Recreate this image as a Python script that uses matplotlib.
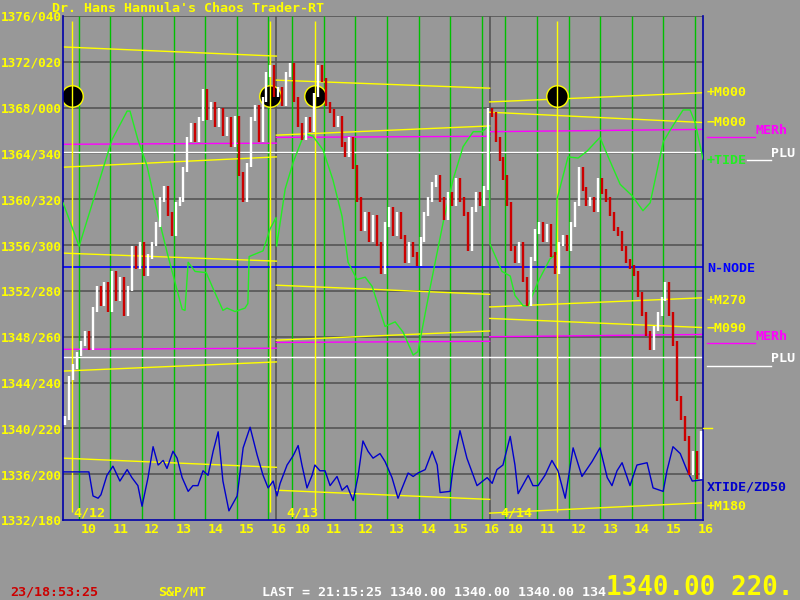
import matplotlib
matplotlib.use('Agg')
import matplotlib.pyplot as plt
from matplotlib.lines import Line2D
import numpy as np

# sessao de 9:30 ate 16:15 = 6.75 horas por dia
DAY = 6.75
days = ['4/12', '4/13', '4/14']
hours = [10, 11, 12, 13, 14, 15, 16]

ytick_vals = [1332, 1336, 1340, 1344, 1348, 1352, 1356, 1360, 1364, 1368, 1372, 1376]
ytick_labels = ['1332/180', '1336/200', '1340/220', '1344/240', '1348/260', '1352/280',
                '1356/300', '1360/320', '1364/340', '1368/000', '1372/020', '1376/040']

# fechamentos a cada 7.5 minutos (54 barras por dia)
price_d1 = [1340.9, 1344.4, 1345.4, 1346.5, 1347.4, 1348.3, 1347.0, 1350.4, 1352.2, 1350.9,
            1352.6, 1350.4, 1353.5, 1351.3, 1353.0, 1350.0, 1352.2, 1355.7, 1354.1, 1356.1,
            1353.5, 1355.0, 1356.1, 1357.8, 1360.0, 1361.0, 1358.7, 1357.0, 1359.6, 1360.0,
            1362.6, 1365.2, 1366.5, 1365.2, 1367.0, 1369.4, 1367.1, 1368.3, 1366.5, 1367.8,
            1365.7, 1367.0, 1364.8, 1367.1, 1362.2, 1360.0, 1363.0, 1367.0, 1368.0, 1365.2,
            1368.7, 1370.9, 1371.5, 1369.1]
price_d2 = [1369.6, 1368.3, 1370.9, 1371.7, 1368.7, 1366.5, 1365.4, 1367.0, 1366.1, 1369.1,
            1371.5, 1370.4, 1368.3, 1367.7, 1366.5, 1367.1, 1364.8, 1363.9, 1365.2, 1362.8,
            1360.0, 1357.4, 1358.7, 1356.5, 1358.4, 1356.1, 1353.7, 1357.8, 1359.1, 1357.0,
            1358.7, 1356.7, 1354.6, 1356.1, 1355.2, 1354.4, 1356.5, 1358.7, 1360.0, 1361.3,
            1361.9, 1360.0, 1358.4, 1360.4, 1359.6, 1361.7, 1360.0, 1358.7, 1355.7, 1359.1,
            1360.4, 1359.6, 1361.0, 1367.8]
price_d3 = [1367.4, 1365.2, 1363.5, 1361.9, 1359.6, 1355.7, 1354.6, 1356.1, 1353.0, 1350.9,
            1354.8, 1357.2, 1357.8, 1356.5, 1357.6, 1355.2, 1353.7, 1356.1, 1356.7, 1355.7,
            1357.8, 1359.6, 1362.6, 1360.9, 1359.6, 1360.0, 1359.1, 1361.7, 1360.7, 1360.0,
            1358.7, 1357.4, 1357.0, 1355.7, 1354.6, 1354.1, 1353.5, 1351.7, 1350.0, 1348.3,
            1347.0, 1348.7, 1350.0, 1351.3, 1352.6, 1350.0, 1347.4, 1342.6, 1340.9, 1339.1,
            1336.1, 1337.8, 1335.8, 1339.6]

# curva TIDE (verde)
tide_t = [0, 0.51, 1.55, 2.03, 2.12, 2.37, 2.66, 2.98, 3.29, 3.54, 3.77, 3.86, 3.96, 4.18, 4.53,
          4.75, 5.06, 5.19, 5.44, 5.76, 5.85, 5.89, 6.33, 6.55, 6.74, 6.76, 7.03, 7.28, 7.56, 7.72,
          7.91, 8.23, 8.54, 8.83, 9.02, 9.30, 9.56, 9.78, 10.19, 10.51, 10.76, 11.08, 11.23, 11.61,
          12.03, 12.34, 12.66, 12.98, 13.26, 13.48, 13.51, 13.89, 14.15, 14.30, 14.56, 14.72, 15.03,
          15.41, 15.60, 15.63, 15.79, 15.98, 16.30, 16.58, 16.99, 17.25, 17.63, 18.01, 18.35, 18.58,
          18.99, 19.27, 19.62, 19.84, 20.00, 20.25]
tide_p = [1359.7, 1355.9, 1365.2, 1367.7, 1367.7, 1365.2, 1362.9, 1358.9, 1355.4, 1352.8,
          1350.4, 1350.3, 1354.5, 1353.7, 1353.6, 1352.2, 1350.3, 1350.5, 1350.2, 1350.5,
          1350.9, 1355.0, 1355.5, 1357.4, 1358.4, 1355.9, 1360.9, 1363.2, 1365.2, 1365.7,
          1365.5, 1364.3, 1361.7, 1358.5, 1354.5, 1353.0, 1353.2, 1352.4, 1348.9, 1349.3,
          1348.4, 1346.4, 1346.7, 1352.2, 1358.0, 1361.7, 1364.6, 1365.9, 1365.9, 1366.4,
          1356.1, 1353.7, 1353.3, 1351.6, 1350.7, 1350.7, 1352.8, 1354.8, 1355.2, 1360.0,
          1361.7, 1363.7, 1363.6, 1364.2, 1365.4, 1363.7, 1361.3, 1360.3, 1359.0, 1359.7,
          1365.0, 1366.3, 1367.8, 1367.8, 1366.7, 1363.5]

# curva XTIDE/ZD50 (azul)
xtide_t = [0, 0.82, 0.95, 1.11, 1.20, 1.39, 1.58, 1.80, 2.03, 2.18,
           2.37, 2.50, 2.69, 2.85, 3.01, 3.17, 3.29, 3.48, 3.61, 3.77,
           3.96, 4.11, 4.27, 4.43, 4.59, 4.75, 4.91, 5.06, 5.25, 5.51,
           5.70, 5.92, 6.14, 6.33, 6.49, 6.65, 6.77, 6.87, 7.09, 7.28,
           7.44, 7.56, 7.72, 7.88, 7.97, 8.13, 8.29, 8.45, 8.67, 8.83,
           8.99, 9.18, 9.34, 9.49, 9.65, 9.81, 10.03, 10.19, 10.41, 10.60,
           10.92, 11.08, 11.23, 11.46, 11.68, 11.84, 11.93, 12.25, 12.34, 12.56,
           12.78, 13.10, 13.42, 13.58, 13.73, 13.92, 14.15, 14.30, 14.40, 14.72,
           14.87, 15.03, 15.25, 15.47, 15.66, 15.89, 16.14, 16.42, 16.74, 16.99,
           17.22, 17.37, 17.53, 17.69, 17.94, 18.16, 18.48, 18.67, 18.99, 19.11,
           19.30, 19.53, 19.75, 19.91, 20.22]
xtide_p = [1336.2, 1336.2, 1334.1, 1333.9, 1334.2, 1335.9, 1336.7, 1335.4, 1336.4, 1335.7,
           1335.0, 1333.2, 1335.7, 1338.4, 1336.8, 1337.2, 1336.5, 1338.0, 1337.4, 1335.7,
           1334.5, 1335.0, 1335.0, 1336.3, 1335.9, 1338.0, 1339.7, 1335.4, 1332.8, 1334.1,
           1338.3, 1340.1, 1337.7, 1335.9, 1334.8, 1335.4, 1334.1, 1335.2, 1336.8, 1337.6,
           1338.5, 1336.8, 1334.8, 1335.9, 1336.8, 1336.3, 1336.3, 1335.0, 1335.8, 1334.6,
           1335.0, 1333.7, 1335.9, 1338.9, 1338.0, 1337.4, 1337.8, 1337.1, 1335.7, 1333.9,
           1336.1, 1335.8, 1336.1, 1336.4, 1338.0, 1336.8, 1334.4, 1334.5, 1336.5, 1339.8,
           1337.4, 1335.0, 1335.7, 1335.2, 1336.4, 1336.8, 1339.3, 1336.8, 1334.3, 1335.9,
           1335.0, 1335.0, 1335.9, 1337.2, 1336.3, 1333.9, 1338.3, 1335.8, 1337.1, 1338.3,
           1335.7, 1335.0, 1336.3, 1337.0, 1335.0, 1336.8, 1337.0, 1334.8, 1334.5, 1336.3,
           1338.4, 1337.8, 1336.3, 1335.4, 1335.5]

# linhas da lua: inicio e fim de cada dia
m000_neg_start = [1373.3, 1370.4, 1367.6]
m000_neg_end = [1372.5, 1369.7, 1366.7]
m000_pos_start = [1362.8, 1365.6, 1368.5]
m000_pos_end = [1363.7, 1366.4, 1369.3]
m090_start = [1355.3, 1352.5, 1349.6]
m090_end = [1354.6, 1351.7, 1348.8]
m270_start = [1345.0, 1347.7, 1350.6]
m270_end = [1345.8, 1348.5, 1351.4]
m180_start = [1337.4, 1334.6, 1332.6]
m180_end = [1336.6, 1333.8, 1333.5]

# mercurio helio (magenta)
merh_hi_start = [1364.8, 1365.4, 1365.9]
merh_hi_end = [1364.9, 1365.5, 1366.1]
merh_lo_start = [1346.9, 1347.5, 1348.0]
merh_lo_end = [1347.0, 1347.6, 1348.2]

plu_levels = [1364.1, 1346.2]
node_level = 1354.1

# eclipses / marcas verticais
ecl_t = [0.29, 6.55, 7.97, 15.63]
ecl_p = [1369.0, 1369.0, 1369.0, 1369.0]
last_price = 1340.0

BG = '#989898'
YEL = '#ffff00'
MAG = '#ff00ff'
GRID = '#555555'
MONO = 'DejaVu Sans Mono'
FS = 9.6

fig = plt.figure(figsize=(8, 6), dpi=100)
fig.patch.set_facecolor(BG)
ax = fig.add_axes([63/800, 80/600, 640/800, 504/600])
ax.set_facecolor(BG)
ax.set_xlim(0, 3*DAY)
ax.set_ylim(1332, 1376)

for s in ['left', 'right', 'bottom']:
    ax.spines[s].set_color('#0000aa')
    ax.spines[s].set_linewidth(1.2)
ax.spines['top'].set_visible(False)

# grade horizontal
for v in ytick_vals[1:]:
    ax.axhline(v, color=GRID, lw=1.2, zorder=1)

ax.set_yticks(ytick_vals)
ax.set_yticklabels(ytick_labels, color=YEL, fontfamily=MONO, fontweight='bold', fontsize=9.2)
ax.tick_params(axis='y', length=0, pad=0.5)

# horas
hour_pos = []
hour_lab = []
for d in range(3):
    for h in hours:
        hour_pos.append(d*DAY + (h - 9.5))
        hour_lab.append(str(h))
hour_pos = np.array(hour_pos)
ax.vlines(hour_pos, 1332, 1376, color='#00c000', lw=1, zorder=1.5)
ax.set_xticks(hour_pos + 0.07)
ax.set_xticklabels(hour_lab, color=YEL, fontfamily=MONO, fontweight='bold', fontsize=FS)
for lab in ax.get_xticklabels():
    lab.set_horizontalalignment('left')
ax.tick_params(axis='x', length=0, pad=2)

for d in [1, 2]:
    ax.axvline(d*DAY, color=GRID, lw=1.2, zorder=1.6)

# linhas planetarias por dia
for d in range(3):
    xs = [d*DAY, (d+1)*DAY]
    for st, en in [(m000_neg_start, m000_neg_end), (m000_pos_start, m000_pos_end),
                   (m090_start, m090_end), (m270_start, m270_end), (m180_start, m180_end)]:
        ax.plot(xs, [st[d], en[d]], color=YEL, lw=1, zorder=2)
    ax.plot(xs, [merh_hi_start[d], merh_hi_end[d]], color=MAG, lw=1, zorder=2)
    ax.plot(xs, [merh_lo_start[d], merh_lo_end[d]], color=MAG, lw=1, zorder=2)

for v in plu_levels:
    ax.axhline(v, color='white', lw=1, zorder=2)
ax.axhline(node_level, color='#0000ff', lw=1.2, zorder=2)

ax.scatter(ecl_t, ecl_p, s=240, c='black', edgecolors=YEL, linewidths=1, zorder=2.5)
ax.vlines(ecl_t, 1332.7, 1375.6, color=YEL, lw=1, zorder=3)

ax.plot(tide_t, tide_p, color='#22ee22', lw=1, zorder=4)
ax.plot(xtide_t, xtide_p, color='#0000cc', lw=1, zorder=4)

# barras de preco
closes = price_d1 + price_d2 + price_d3
bx = []
for d in range(3):
    for i in range(54):
        bx.append(d*DAY + (i + 0.5)*0.125)
prev = closes[0] - 0.4
for x, c in zip(bx, closes):
    lo, hi = min(prev, c) - 0.2, max(prev, c) + 0.2
    col = 'white' if c >= prev else '#cc0000'
    ax.vlines(x, lo, hi, color=col, lw=1.7, zorder=5)
    prev = c

ax.plot([3*DAY, 3*DAY + 0.28], [last_price, last_price], color=YEL, lw=1, clip_on=False, zorder=5)

for d, lab in enumerate(days):
    ax.text(d*DAY + 0.33, 1332.6, lab, color=YEL, fontfamily=MONO, fontweight='bold',
            fontsize=FS, va='center', ha='left', zorder=6)


def ftxt(x, y, s, color, size=FS):
    fig.text(x/800, 1 - y/600, s, color=color, fontfamily=MONO, fontweight='bold',
             fontsize=size, va='center', ha='left')


def fline(x0, x1, y, color):
    fig.add_artist(Line2D([x0/800, x1/800], [1 - y/600, 1 - y/600], color=color, lw=1,
                          transform=fig.transFigure))


ftxt(52, 8, "Dr. Hans Hannula's Chaos Trader-RT", YEL)

# rotulos da direita
ftxt(707, 93, '+M000', YEL)
ftxt(707, 123, '\u2212M000', YEL)
ftxt(755, 131, 'MERh', MAG)
fline(707, 755, 137, MAG)
ftxt(707, 161, '+TIDE', '#22ee22')
fline(747, 771, 160, 'white')
ftxt(771, 154, 'PLU', 'white')
ftxt(707, 268, 'N-NODE', '#0000ff')
ftxt(707, 300, '+M270', YEL)
ftxt(707, 328, '\u2212M090', YEL)
ftxt(755, 337, 'MERh', MAG)
fline(707, 755, 343, MAG)
ftxt(771, 359, 'PLU', 'white')
fline(707, 771, 366, 'white')
ftxt(707, 487, 'XTIDE/ZD50', '#0000cc')
ftxt(707, 506, '+M180', YEL)

# linha de status
ftxt(10, 592, '23/18:53:25', '#cc0000')
ftxt(158, 592, 'S&P/MT', YEL)
ftxt(262, 592, 'LAST = 21:15:25 1340.00 1340.00 1340.00 134', 'white')
ftxt(606, 588, '1340.00 220.', YEL, size=18.6)

fig.savefig('out.png', dpi=100, facecolor=fig.get_facecolor())
